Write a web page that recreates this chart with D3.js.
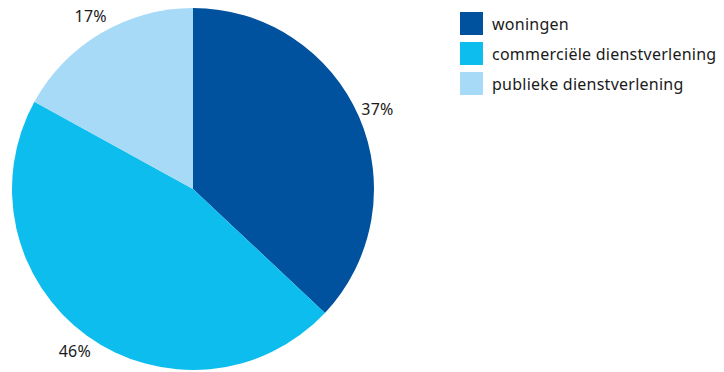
<!DOCTYPE html>
<html>
<head>
<meta charset="utf-8">
<script src="https://cdn.jsdelivr.net/npm/d3@7"></script>
<style>
  body { margin: 0; background: #fff; }
  text { font-family: "Noto Sans", "Open Sans", sans-serif; fill: #1a1a1a; letter-spacing: 0.25px; }
</style>
</head>
<body>
<svg id="chart" width="724" height="372"></svg>
<script>
const categories = ['woningen', 'commerciële dienstverlening', 'publieke dienstverlening'];
const values = [37, 46, 17];
const colors = ['#00519e', '#0cbdee', '#a6daf7'];

const svg = d3.select('#chart');
const cx = 193, cy = 189, radius = 181, labelR = 201;

const pie = d3.pie().sort(null).value(d => d);
const arcs = pie(values);
const arc = d3.arc().innerRadius(0).outerRadius(radius);
const labelArc = d3.arc().innerRadius(labelR).outerRadius(labelR);

const g = svg.append('g').attr('transform', `translate(${cx},${cy})`);

g.selectAll('path')
  .data(arcs)
  .join('path')
  .attr('d', arc)
  .attr('fill', (d, i) => colors[i]);

g.selectAll('text.pct')
  .data(arcs)
  .join('text')
  .attr('class', 'pct')
  .attr('x', d => labelArc.centroid(d)[0])
  .attr('y', d => labelArc.centroid(d)[1])
  .attr('dy', '0.35em')
  .attr('text-anchor', 'middle')
  .attr('font-size', 16)
  .text(d => `${d.data}%`);

// legend
const legend = svg.append('g').attr('transform', 'translate(460,12)');
const item = legend.selectAll('g')
  .data(categories)
  .join('g')
  .attr('transform', (d, i) => `translate(0,${i * 30})`);

item.append('rect')
  .attr('width', 23)
  .attr('height', 23)
  .attr('fill', (d, i) => colors[i]);

item.append('text')
  .attr('x', 32)
  .attr('y', 12)
  .attr('dy', '0.35em')
  .attr('font-size', 16)
  .text(d => d);
</script>
</body>
</html>
